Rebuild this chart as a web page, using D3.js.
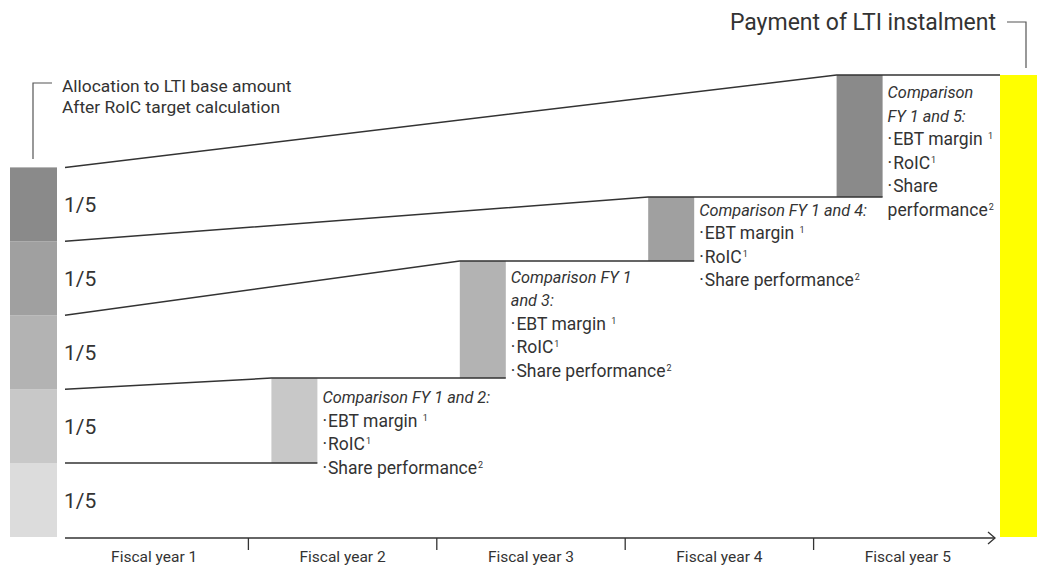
<!DOCTYPE html>
<html><head><meta charset="utf-8">
<script src="https://cdn.jsdelivr.net/npm/d3@7"></script>
<style>
body{margin:0;background:#fff}
svg{display:block}
text{font-family:Roboto,"Noto Sans",sans-serif;fill:#333}
</style>
</head><body>
<svg id="c" width="1037" height="569"></svg>
<script>
// ---------- data ----------
const years = ["Fiscal year 1","Fiscal year 2","Fiscal year 3","Fiscal year 4","Fiscal year 5"];
const shareLabels = ["1/5","1/5","1/5","1/5","1/5"];
const shareValues = [0.2,0.2,0.2,0.2,0.2];
const boxYears = ["Fiscal year 2","Fiscal year 3","Fiscal year 4","Fiscal year 5"];
const boxLevels = [0.2,0.43,0.747,0.92,1.25];
const headings = [
  ["Comparison FY 1 and 2:"],
  ["Comparison FY 1","and 3:"],
  ["Comparison FY 1 and 4:"],
  ["Comparison","FY 1 and 5:"]
];
const bullets = [
  [["EBT margin\u00A0","1"],["RoIC","1"],["Share performance","2"]],
  [["EBT margin\u00A0","1"],["RoIC","1"],["Share performance","2"]],
  [["EBT margin\u00A0","1"],["RoIC","1"],["Share performance","2"]],
  [["EBT margin\u00A0","1"],["RoIC","1"],["Share",""],["performance","2",false]]
];
const allocationText = ["Allocation to LTI base amount","After RoIC target calculation"];
const paymentText = "Payment of LTI instalment";

// ---------- style / layout ----------
const grays = ["#dcdcdc","#c8c8c8","#b3b3b3","#a0a0a0","#8a8a8a"];
const yellow = "#ffff00";
const ink = "#333";
const textOffsets = [25,22,19,23];
const lineGap = 23.5;
const boxInset = 23, boxW = 46;

const svg = d3.select("#c");
const x = d3.scaleBand().domain(years).range([60,1002]).padding(0);
const y = d3.scaleLinear().domain([0,1.25]).range([537,75]);

// stacked left bar
const cum = Array.from(d3.cumsum(shareValues));
const stackData = shareValues.map((v,i)=>({v, lo: cum[i]-v, hi: cum[i], label: shareLabels[i], i}));
svg.selectAll("rect.stack").data(stackData).join("rect")
  .attr("x",10).attr("width",47)
  .attr("y",d=>y(d.hi)).attr("height",d=>y(d.lo)-y(d.hi))
  .attr("fill",d=>grays[d.i]);
svg.selectAll("text.share").data(stackData).join("text")
  .attr("x",64).attr("y",d=>(y(d.lo)+y(d.hi))/2+8)
  .attr("font-size",21).text(d=>d.label);

// yellow payment bar
const topLvl = boxLevels[boxLevels.length-1];
svg.append("rect").attr("x",1000).attr("width",37)
  .attr("y",y(topLvl)).attr("height",y(0)-y(topLvl))
  .attr("fill",yellow);

// boxes
const boxData = boxYears.map((yr,i)=>({yr, lo: boxLevels[i], hi: boxLevels[i+1], i}));
svg.selectAll("rect.box").data(boxData).join("rect")
  .attr("x",d=>x(d.yr)+boxInset).attr("width",boxW)
  .attr("y",d=>y(d.hi)).attr("height",d=>y(d.lo)-y(d.hi))
  .attr("fill",d=>grays[d.i+1]);

// connecting lines
const bx = i => x(boxYears[i])+boxInset;
const lineData = cum.map((c,k)=>{
  const bi = Math.max(0,k-1);
  const lvl = boxLevels[k];
  const endX = k < boxYears.length ? bx(k)+boxW : 1000;
  return [[65,y(c)],[bx(bi),y(lvl)],[endX,y(lvl)]];
});
const lineGen = d3.line();
svg.selectAll("path.lvl").data(lineData).join("path")
  .attr("d",d=>lineGen(d)).attr("fill","none").attr("stroke",ink).attr("stroke-width",1.5);

// annotations
boxData.forEach((b,i)=>{
  const tx = x(b.yr)+boxInset+boxW+5;
  let by = y(b.hi)+textOffsets[i];
  headings[i].forEach(h=>{
    svg.append("text").attr("x",tx).attr("y",by).attr("font-size",16.3)
      .attr("font-style","italic").text(h);
    by += lineGap;
  });
  bullets[i].forEach(bt=>{
    const t = svg.append("text").attr("x",tx).attr("y",by).attr("font-size",17.5);
    if (bt[2] !== false) {
      t.append("tspan").text("\u00B7");
      t.append("tspan").attr("dx",1).text(bt[0]);
    } else {
      t.append("tspan").text(bt[0]);
    }
    if (bt[1]) t.append("tspan").attr("dy",-6).attr("dx",1).attr("font-size",9).text(bt[1]);
    by += lineGap;
  });
});

// allocation label + bracket
svg.append("path").attr("d",lineGen([[52,83],[33,83],[33,159]]))
  .attr("fill","none").attr("stroke","#555").attr("stroke-width",1.2);
allocationText.forEach((t,i)=>{
  svg.append("text").attr("x",62).attr("y",92+i*21).attr("font-size",17.4).text(t);
});

// payment title + bracket
svg.append("text").attr("x",996).attr("y",30).attr("text-anchor","end")
  .attr("font-size",23).attr("fill","#222").text(paymentText);
svg.append("path").attr("d",lineGen([[1007,22],[1026,22],[1026,68]]))
  .attr("fill","none").attr("stroke","#555").attr("stroke-width",1.2);

// time axis
const axisY = 538;
svg.append("line").attr("x1",65).attr("x2",995).attr("y1",axisY).attr("y2",axisY)
  .attr("stroke",ink).attr("stroke-width",1.5);
svg.append("path").attr("d",lineGen([[988,532],[995,axisY],[988,544]]))
  .attr("fill","none").attr("stroke",ink).attr("stroke-width",1.3);
svg.selectAll("line.tick").data(years.slice(1)).join("line")
  .attr("x1",d=>x(d)).attr("x2",d=>x(d)).attr("y1",axisY).attr("y2",axisY+12)
  .attr("stroke",ink).attr("stroke-width",1.3);
svg.selectAll("text.yr").data(years).join("text")
  .attr("x",d=>x(d)+x.bandwidth()/2).attr("y",562).attr("text-anchor","middle")
  .attr("font-size",15.5).text(d=>d);
</script>
</body></html>
